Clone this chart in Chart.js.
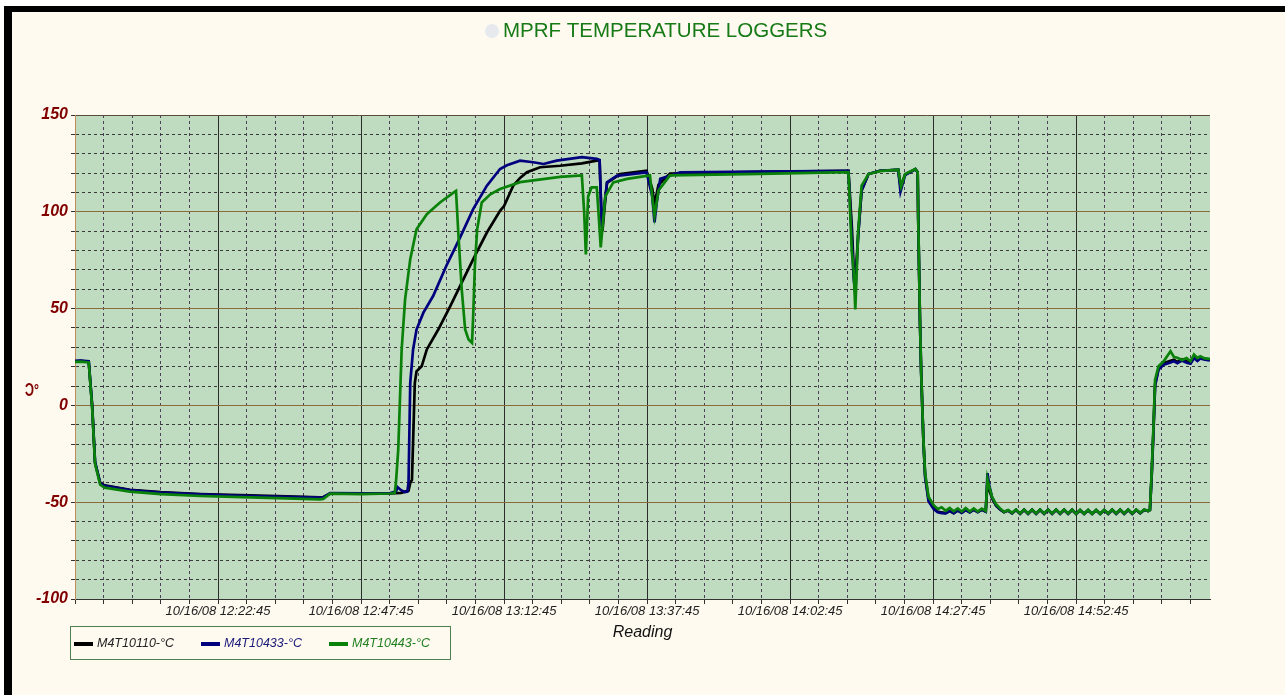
<!DOCTYPE html>
<html>
<head>
<meta charset="utf-8">
<title>MPRF Temperature Loggers</title>
<script src="https://cdn.jsdelivr.net/npm/chart.js@4.4.0/dist/chart.umd.min.js"></script>
<style>
  html, body { margin: 0; padding: 0; background: #fff; }
  canvas { display: block; }
</style>
</head>
<body>
<canvas id="chart" width="1285" height="695"></canvas>
<script>
// minutes since 10/16/08 11:57:45, temperature in °C
const chartTitle = 'MPRF TEMPERATURE LOGGERS';
const seriesNames = ['M4T10110-°C', 'M4T10433-°C', 'M4T10443-°C'];
const seriesColors = ['#000000', '#00007f', '#0a820a'];
const legendTextColors = ['#222222', '#1a1a7a', '#1f7f1f'];
const xTickLabels = ['10/16/08 12:22:45', '10/16/08 12:47:45', '10/16/08 13:12:45', '10/16/08 13:37:45',
                     '10/16/08 14:02:45', '10/16/08 14:27:45', '10/16/08 14:52:45'];

const blackLog = [
  [0,22.8],[1,23],[2.4,22.6],[3.0,-0.5],[3.5,-29.7],[4.4,-40],[5.2,-41.3],[9.6,-43.6],[15,-44.8],[21.9,-45.8],
  [30.6,-46.5],[37,-47],[42.8,-47.5],[43.4,-47.3],[44.6,-45.5],[50,-45.6],[55.1,-45.5],[57,-45.2],[58.3,-44],
  [58.6,-40],[58.9,-38.5],[59.4,11.6],[59.7,17.6],[60.6,20.2],[61.5,28.9],[63.5,39.2],[65.6,51.3],[67.6,63.4],
  [69.9,77.2],[72.0,89.3],[74.3,100.5],[75.0,103],[76.6,113.5],[77.8,117.5],[79.0,120.4],[81.3,123],[84.8,123.8],
  [88.6,125],[91.2,126.4],[91.7,126.5],[92.0,100],[92.2,90],[92.5,100],[93.0,115],[95.3,119.5],[99.9,121.2],
  [100.9,112],[101.3,104],[102.0,114],[104.0,119.8],[119.8,120.6],[135.2,121.2],[135.8,92],[136.1,72],[136.4,64],
  [136.9,88],[137.5,111],[138.7,119.5],[140.7,121.2],[143.9,121.6],[144.3,113],[145.1,119.2],[146.9,122],
  [147.3,120.4],[147.4,96],[147.7,44],[147.9,18],[148.3,-18],[148.6,-36],[149.2,-48.5],[150.1,-53],[150.8,-54.8],
  [151.5,-55.3],[152.2,-55.6],[152.9,-54.4],[153.6,-55.6],[154.3,-54.2],[155.0,-55.4],[155.7,-54],[156.4,-55.2],
  [157.1,-53.8],[157.8,-55],[158.5,-53.8],[159.2,-54.8],[159.5,-40],[159.8,-43.5],[160.3,-48],[161.0,-51.8],
  [161.7,-53.8],[162.4,-55.2],[163.1,-54.3],[163.8,-55.7],[164.5,-54],[165.2,-56],[165.9,-54],[166.6,-56],
  [167.3,-54],[168.0,-56],[168.7,-54],[169.4,-56],[170.1,-54],[170.8,-56],[171.5,-54],[172.2,-56],[172.9,-54],
  [173.6,-56],[174.3,-54],[175.0,-56],[175.7,-54.2],[176.4,-56],[177.1,-54.2],[177.8,-56],[178.5,-54.2],
  [179.2,-56],[179.9,-54.2],[180.6,-56],[181.3,-54],[182.0,-56],[182.7,-54],[183.4,-56],[184.1,-54],[184.8,-56],
  [185.5,-54],[186.2,-55.7],[186.9,-54],[187.6,-54.6],[187.9,-54],[188.2,-36],[188.5,-14],[188.8,11],[189.4,19],
  [190.3,21.8],[191.5,23],[192.1,23.6],[192.7,22.4],[193.5,23.8],[194.3,22.8],[195.0,22.2],[195.6,25],
  [196.2,23.6],[196.7,24.6],[197.5,24],[198.4,23.6]
];

const blueLog = [
  [0,23],[1,23.2],[2.4,22.8],[3.0,0],[3.5,-29],[4.4,-40.3],[5.2,-41.6],[9.6,-43.8],[15,-45],[21.9,-46],
  [30.6,-46.8],[37,-47.2],[42.8,-47.6],[43.4,-47.5],[44.6,-45.3],[50,-45.4],[55.1,-45.3],[56.1,-44.5],[56.4,-42.3],
  [57.0,-43.8],[57.7,-44.8],[58.1,-44.5],[58.3,-40],[58.6,11.6],[59.1,28.9],[59.7,39.2],[60.9,47.9],[62.6,56.5],
  [64.9,72],[67.3,86.7],[69.6,101.4],[72.0,113.5],[74.3,122.1],[75.5,124],[77.8,126.4],[80.1,125.6],[81.9,124.7],
  [84.2,126.4],[88.6,128.2],[91.2,127.3],[91.7,126.8],[92.0,100],[92.1,92],[92.4,100],[93.0,115.2],[94.7,118.6],
  [99.9,120.4],[100.9,108],[101.3,94.5],[101.7,105],[102.3,117],[105.8,120.4],[119.8,120.8],[135.2,121.2],
  [135.8,86],[136.1,66],[136.4,58],[136.9,88],[137.5,111],[138.7,119.5],[140.7,121.2],[143.9,121.8],
  [144.3,110.5],[145.1,119],[146.9,122.1],[147.3,120.4],[147.4,96.2],[147.7,44.4],[147.9,18.5],[148.3,-17.8],
  [148.6,-37],[149.2,-49.5],[150.1,-53.5],[150.8,-55.2],[151.5,-55.6],[152.2,-55.8],[152.9,-54.6],[153.6,-55.7],
  [154.3,-54.3],[155.0,-55.5],[155.7,-54.1],[156.4,-55.3],[157.1,-53.9],[157.8,-55.1],[158.5,-53.9],[159.2,-54.9],
  [159.5,-35],[159.8,-41],[160.3,-47.5],[161.0,-51.5],[161.7,-53.6],[162.4,-55.1],[163.1,-54.2],[163.8,-55.6],
  [164.5,-53.9],[165.2,-55.9],[165.9,-53.9],[166.6,-55.9],[167.3,-53.9],[168.0,-55.9],[168.7,-53.9],[169.4,-55.9],
  [170.1,-53.9],[170.8,-55.9],[171.5,-53.9],[172.2,-55.9],[172.9,-53.9],[173.6,-55.9],[174.3,-53.9],[175.0,-56],
  [175.7,-54.1],[176.4,-56],[177.1,-54.1],[177.8,-56],[178.5,-54.1],[179.2,-56],[179.9,-54.1],[180.6,-55.9],
  [181.3,-53.9],[182.0,-55.9],[182.7,-53.9],[183.4,-55.9],[184.1,-53.9],[184.8,-55.9],[185.5,-53.9],[186.2,-55.6],
  [186.9,-53.9],[187.6,-54.6],[187.9,-54],[188.2,-37],[188.5,-15],[188.8,10],[189.4,18.5],[190.3,21],[191.5,22.2],
  [192.1,22.8],[192.7,21.8],[193.5,23.2],[194.3,22],[195.0,21.5],[195.6,24.5],[196.2,23],[196.7,24.2],
  [197.5,23.6],[198.4,23.2]
];

const greenLog = [
  [0,22.5],[1,22.6],[2.4,22.2],[3.0,-1],[3.5,-30],[4.4,-41],[5.2,-42.5],[9.6,-44.5],[15,-45.8],[21.9,-46.8],
  [30.6,-47.5],[37,-48],[42.8,-48.5],[43.4,-48.3],[44.6,-45.6],[50,-45.8],[55.1,-45.5],[55.9,-45.2],[56.1,-40],
  [56.5,-23],[57.1,28.9],[57.7,54.8],[58.6,75.5],[59.7,91],[61.5,98.8],[63.8,104.8],[66.4,110.4],[66.6,110.8],
  [67.0,89.3],[67.6,60],[68.2,39.2],[68.8,34],[69.4,32.3],[69.6,46],[69.9,72],[70.3,91],[71.1,104.8],[72.6,109],
  [74.3,111.8],[77.8,115.3],[84.8,118],[88.6,118.8],[89.0,100],[89.3,78],[89.7,108],[90.3,112.6],[91.2,112.6],
  [91.5,100],[91.9,81.6],[92.3,95],[92.7,108],[94.1,115.2],[96.5,117],[100.5,118.8],[100.9,108],[101.3,98],
  [102.0,111],[104.0,118.8],[119.8,119.6],[135.2,120.5],[135.8,79],[136.1,70],[136.4,49.6],[136.9,90],
  [137.5,113.5],[138.7,119.5],[140.7,121],[143.9,121.8],[144.4,113],[145.1,119.5],[146.9,122.1],[147.3,120.4],
  [147.4,96.2],[147.7,44.4],[147.9,18.5],[148.3,-17.8],[148.6,-35],[149.2,-47.2],[150.1,-51.5],[150.8,-53.5],
  [151.5,-52.6],[152.2,-54.4],[152.9,-53],[153.6,-54.7],[154.3,-53.2],[155.0,-54.8],[155.7,-53],[156.4,-54.8],
  [157.1,-53.2],[157.8,-54.8],[158.5,-53.3],[159.2,-54.5],[159.5,-38],[159.8,-42],[160.3,-47.2],[161.0,-51],
  [161.7,-53.2],[162.4,-55],[163.1,-54],[163.8,-55.5],[164.5,-53.8],[165.2,-55.8],[165.9,-53.8],[166.6,-55.8],
  [167.3,-53.8],[168.0,-55.8],[168.7,-53.8],[169.4,-55.8],[170.1,-53.8],[170.8,-55.8],[171.5,-53.8],[172.2,-55.8],
  [172.9,-53.8],[173.6,-55.8],[174.3,-53.8],[175.0,-56],[175.7,-54],[176.4,-56],[177.1,-54],[177.8,-56],
  [178.5,-54],[179.2,-56],[179.9,-54],[180.6,-55.8],[181.3,-53.8],[182.0,-55.8],[182.7,-53.8],[183.4,-55.8],
  [184.1,-53.8],[184.8,-55.8],[185.5,-53.8],[186.2,-55.5],[186.9,-53.8],[187.6,-54.5],[187.9,-54],[188.2,-35],
  [188.5,-12.6],[188.8,13.3],[189.4,20.2],[190.3,22.8],[191.5,28],[192.1,25],[192.7,24.6],[193.5,23.5],
  [194.3,24.5],[195.0,22.8],[195.6,26.3],[196.2,24.5],[196.7,25.4],[197.5,24.3],[198.4,24]
];

const FONT = '"Liberation Sans", Arial, sans-serif';

function toXY(log) {
  return log.map(p => ({ x: p[0], y: p[1] }));
}

// background, frame, title, y title and legend
const pagePlugin = {
  id: 'page',
  beforeDraw(chart) {
    const ctx = chart.ctx;
    const a = chart.chartArea;
    ctx.save();
    ctx.fillStyle = '#ffffff';
    ctx.fillRect(0, 0, chart.width, chart.height);
    ctx.fillStyle = '#fffaf0';
    ctx.fillRect(4, 6, chart.width - 4, chart.height - 6);
    ctx.fillStyle = '#000000';
    ctx.fillRect(4, 6, chart.width - 4, 6);
    ctx.fillRect(4, 6, 8, chart.height - 6);
    ctx.fillStyle = '#c0dcc0';
    ctx.fillRect(a.left, a.top, a.right - a.left, a.bottom - a.top);
    ctx.restore();
  },
  afterDraw(chart) {
    const ctx = chart.ctx;
    ctx.save();

    // title with the little round marker
    ctx.fillStyle = '#e6eaee';
    ctx.beginPath();
    ctx.arc(492, 31, 7, 0, Math.PI * 2);
    ctx.fill();
    ctx.font = '20.5px ' + FONT;
    ctx.fillStyle = '#167a16';
    ctx.textAlign = 'left';
    ctx.textBaseline = 'middle';
    ctx.fillText(chartTitle, 503, 31);

    // y title, drawn mirrored like the original
    ctx.save();
    ctx.translate(32, 391);
    ctx.scale(-0.7, 1);
    ctx.font = 'bold 18px ' + FONT;
    ctx.fillStyle = '#800000';
    ctx.textAlign = 'center';
    ctx.fillText('°C', 0, 0);
    ctx.restore();

    // legend box
    ctx.strokeStyle = '#4f7f4f';
    ctx.lineWidth = 1;
    ctx.strokeRect(70.5, 626.5, 380, 33);
    const swX = [74, 201, 329];
    ctx.font = 'italic 12.5px ' + FONT;
    seriesNames.forEach((name, i) => {
      ctx.fillStyle = seriesColors[i];
      ctx.fillRect(swX[i], 642, 19, 4);
      ctx.fillStyle = legendTextColors[i];
      ctx.fillText(name, swX[i] + 23, 644);
    });
    ctx.restore();
  }
};

const chart = new Chart(document.getElementById('chart'), {
  type: 'line',
  data: {
    datasets: [
      { label: seriesNames[0], data: toXY(blackLog), borderColor: seriesColors[0], order: 3 },
      { label: seriesNames[1], data: toXY(blueLog), borderColor: seriesColors[1], order: 2 },
      { label: seriesNames[2], data: toXY(greenLog), borderColor: seriesColors[2], order: 1 }
    ]
  },
  options: {
    responsive: false,
    animation: false,
    devicePixelRatio: 1,
    layout: { padding: { top: 115, right: 75, left: 0, bottom: 0 } },
    elements: {
      point: { radius: 0 },
      line: { borderWidth: 2.7, tension: 0, fill: false }
    },
    plugins: {
      legend: { display: false },
      tooltip: { enabled: false }
    },
    scales: {
      x: {
        type: 'linear',
        min: 0,
        max: 198.4,
        afterFit: s => { s.height = 96; },
        ticks: {
          stepSize: 5,
          includeBounds: false,
          autoSkip: false,
          maxRotation: 0,
          padding: 0,
          color: '#1e1e1e',
          font: { family: FONT, size: 13, style: 'italic' },
          callback: v => (v % 25 === 0 && v > 0) ? xTickLabels[v / 25 - 1] : ''
        },
        grid: {
          color: c => {
            if (!c.tick) return '#333';
            if (c.tick.value === 0) return 'rgba(0,0,0,0)';
            return c.tick.value % 25 === 0 ? '#2b2b2b' : '#4d4058';
          },
          lineWidth: 1,
          tickLength: 5,
          tickColor: '#333'
        },
        border: {
          color: '#333',
          dash: c => (c.tick && c.tick.value % 25 !== 0) ? [3, 3] : []
        },
        title: {
          display: true,
          text: 'Reading',
          color: '#111',
          font: { family: FONT, size: 16, style: 'italic' },
          padding: { top: 0, bottom: 52.7 }
        }
      },
      y: {
        min: -100,
        max: 150,
        afterFit: s => { s.width = 75; },
        ticks: {
          stepSize: 10,
          autoSkip: false,
          padding: 3,
          color: '#800000',
          font: { family: FONT, size: 16, style: 'italic', weight: 'bold' },
          callback: v => v % 50 === 0 ? String(v) : ''
        },
        grid: {
          color: c => {
            if (!c.tick) return '#333';
            const v = c.tick.value;
            if (v === 150) return '#5a4a38';
            if (v === -100) return '#333';
            return v % 50 === 0 ? '#8b6a3c' : '#3a3a3a';
          },
          lineWidth: 1,
          tickLength: 4,
          tickColor: '#333'
        },
        border: {
          color: '#c08a5a',
          dash: c => (c.tick && c.tick.value % 50 !== 0) ? [3, 3] : []
        }
      }
    }
  },
  plugins: [pagePlugin]
});
</script>
</body>
</html>
